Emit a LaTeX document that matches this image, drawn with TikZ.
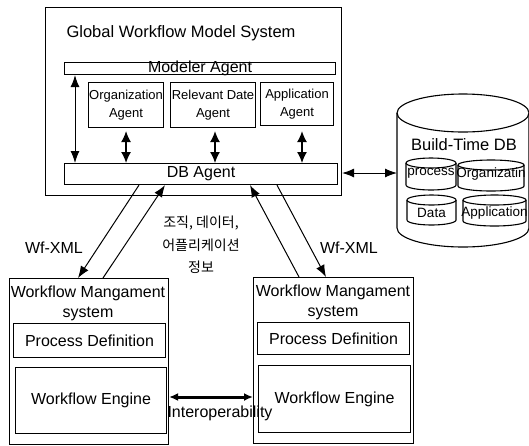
\documentclass[tikz,border=0pt]{standalone}
\usepackage{fontspec}
\setmainfont{Liberation Sans}
\newfontfamily\kr{Noto Sans CJK KR}
\usetikzlibrary{arrows.meta}
\newcommand\mycyl[5]{%
  \draw[line width=1.1pt] (#1-#4,#2+#5) -- (#1-#4,#3-#5)
     arc[start angle=180,end angle=360,x radius=#4pt,y radius=#5pt] -- (#1+#4,#2+#5);
  \draw[line width=1.1pt] (#1,#2+#5) ellipse[x radius=#4pt,y radius=#5pt];}
\begin{document}
\begin{tikzpicture}[x=1pt,y=-1pt,
  box/.style={draw, line width=1.1pt, inner sep=0pt, anchor=north west},
  big/.style={font=\fontsize{16}{18}\selectfont},
  small/.style={font=\fontsize{13}{18}\selectfont, align=center},
  lbl/.style={inner sep=0pt, font=\fontsize{16}{18}\selectfont},
  conn/.style={line width=1pt, -{Latex[length=12pt,width=9pt]}},
  dconn/.style={line width=1pt, {Latex[length=12pt,width=9pt]}-{Latex[length=12pt,width=9pt]}},
  sdconn/.style={line width=1.3pt, {Latex[length=11pt,width=10pt]}-{Latex[length=11pt,width=10pt]}},
  thick2/.style={line width=3pt, {Latex[length=9pt,width=8pt]}-{Latex[length=9pt,width=8pt]}}
]
\useasboundingbox (0,0) rectangle (529,445);

% Global Workflow Model System
\node[box, minimum width=296pt, minimum height=188pt] (gwms) at (45,7) {};
\node[lbl, font=\fontsize{16.5}{18}\selectfont] (title) at (181,33) {Global Workflow Model System};
\node[box, big, minimum width=271pt, minimum height=12pt] (modeler) at (64,62) {};
\node[lbl] (modelerT) at (modeler.center) {Modeler Agent};
\node[box, small, minimum width=75pt, minimum height=45pt] (org) at (88,82) {Organization\\Agent};
\node[box, small, minimum width=85pt, minimum height=45pt] (rel) at (170,82) {Relevant Date\\Agent};
\node[box, small, minimum width=73pt, minimum height=43pt] (app) at (260,82) {Application\\Agent};
\node[box, big, minimum width=273pt, minimum height=21pt] (db) at (64,163) {DB Agent};

\draw[dconn] ([xshift=11pt]modeler.south west) -- ([xshift=11pt]db.north west);
\draw[sdconn] ([yshift=-3pt]org.south) -- (org.south |- db.north);
\draw[sdconn] ([yshift=-3pt]rel.south -| 215,0) -- (215,0 |- db.north);
\draw[sdconn] ([yshift=-5pt]app.south -| 302,0) -- (302,0 |- db.north);

% Build-Time DB
\mycyl{463}{94}{247}{66}{19}
\coordinate (cylw) at (397,173);
\node[lbl, font=\fontsize{16.5}{18}\selectfont] (btdb) at (464,145) {Build-Time DB};
\mycyl{431}{158}{190}{25}{5}
\mycyl{491}{160}{191}{33}{5}
\mycyl{431.5}{195}{225}{24.5}{5}
\mycyl{494.5}{195}{226}{31.5}{5}
\node[lbl, font=\fontsize{13.5}{16}\selectfont] (c1) at (431,173) {process};
\node[lbl, font=\fontsize{13.5}{16}\selectfont] (c2) at (491,174) {Organizatin};
\node[lbl, font=\fontsize{13.5}{16}\selectfont] (c3) at (431.5,213) {Data};
\node[lbl, font=\fontsize{13.5}{16}\selectfont] (c4) at (494.5,213) {Application};
\draw[dconn] (gwms.east |- cylw) -- (cylw);

% Lower systems
\node[box, minimum width=159pt, minimum height=166pt] (wmsL) at (9,278) {};
\node[box, minimum width=160pt, minimum height=166pt] (wmsR) at (253,277) {};
\node[lbl, align=center, font=\fontsize{16}{20}\selectfont] (wmsLt) at (88,303) {Workflow Mangament\\system};
\node[lbl, align=center, font=\fontsize{16}{20}\selectfont] (wmsRt) at (333,302) {Workflow Mangament\\system};
\node[box, big, minimum width=152pt, minimum height=34pt] (pdL) at (13,323) {Process Definition};
\node[box, big, minimum width=151pt, minimum height=66pt] (weL) at (15,367) {Workflow Engine};
\node[box, big, minimum width=152pt, minimum height=32pt] (pdR) at (257,322) {Process Definition};
\node[box, big, minimum width=152pt, minimum height=67pt] (weR) at (258,365) {Workflow Engine};

\draw[thick2] (wmsL.east |- 0,397) -- (wmsR.west |- 0,397);
\node[lbl] (interop) at (220,413) {Interoperability};

% Wf-XML connectors
\draw[conn] ([xshift=75pt]db.south west) -- ([xshift=69pt]wmsL.north west);
\draw[conn] ([xshift=94pt]wmsL.north west) -- ([xshift=101pt]db.south west);
\draw[conn] ([xshift=46pt]wmsR.north west) -- ([xshift=186pt]db.south west);
\draw[conn] ([xshift=213pt]db.south west) -- ([xshift=73pt]wmsR.north west);
\node[lbl] (wfL) at (54,248) {Wf-XML};
\node[lbl] (wfR) at (349,248) {Wf-XML};
\node[inner sep=0pt, align=center, font=\kr\fontsize{14}{22.5}\selectfont] (kor) at (201,245) {조직, 데이터,\\어플리케이션\\정보};
\end{tikzpicture}
\end{document}
